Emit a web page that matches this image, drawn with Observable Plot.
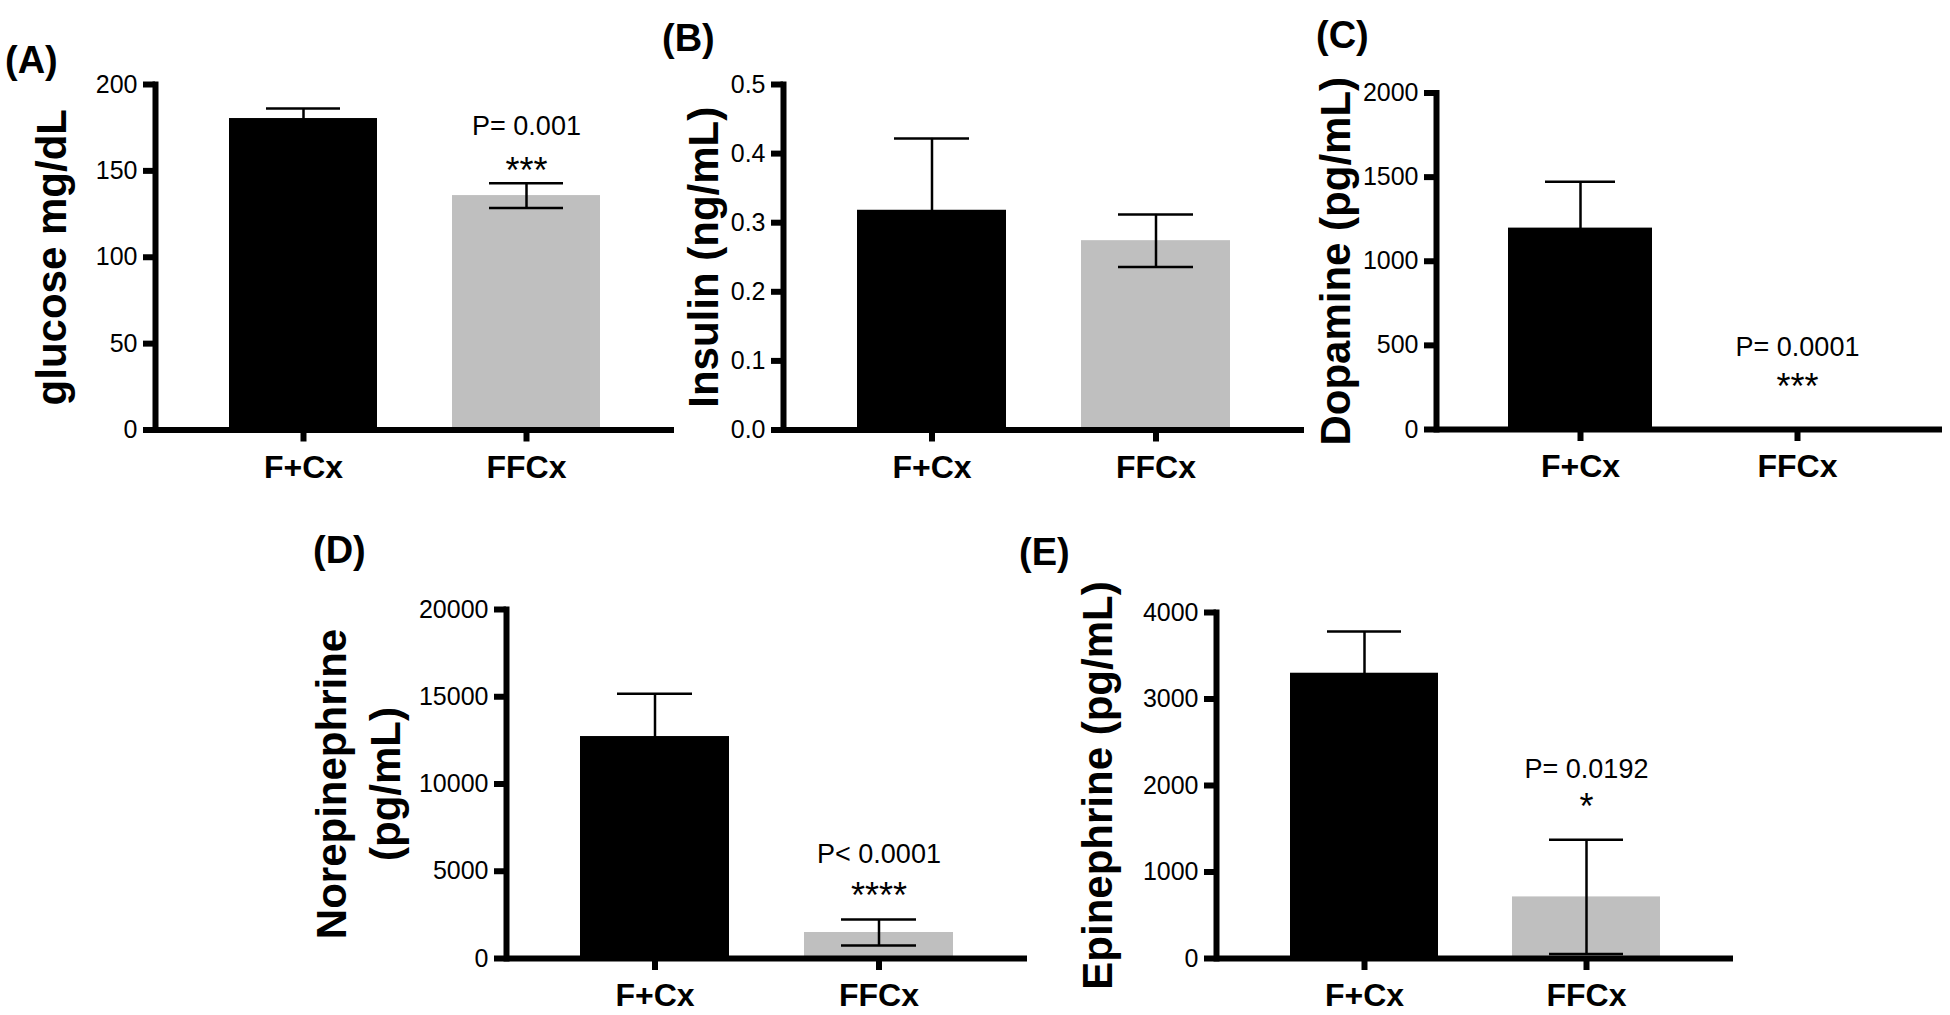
<!DOCTYPE html>
<html><head><meta charset="utf-8">
<script src="https://cdn.jsdelivr.net/npm/d3@7"></script>
<script src="https://cdn.jsdelivr.net/npm/@observablehq/plot@0.6"></script>
<style>
html,body{margin:0;padding:0;background:#fff;}
#fig{position:relative;width:1950px;height:1015px;overflow:hidden;background:#fff;font-family:"Liberation Sans",Arial,Helvetica,sans-serif;}
#fig svg{position:absolute;left:0;top:0;}
#fig svg g[aria-label="y-axis tick"], #fig svg g[aria-label="y-axis tick"] *,
#fig svg g[aria-label="x-axis tick"], #fig svg g[aria-label="x-axis tick"] *,
#fig svg g[aria-label="axis line"], #fig svg g[aria-label="axis line"] * {stroke-width:6px !important;}
.tag{position:absolute;font-weight:bold;font-size:38px;line-height:1;color:#000;white-space:nowrap;}
</style></head><body><div id="fig"></div>
<script>
// ---- data ----
const groups = ["F+Cx", "FFCx"];
const glucose = [180.3, 135.7];
const glucoseSEM = [5.8, 7.2];
const insulin = [0.318, 0.274];
const insulinSEM = [0.104, 0.038];
const dopamine = [1197, 0];
const dopamineSEM = [276, 0];
const norepinephrine = [12720, 1490];
const norepinephrineSEM = [2450, 745];
const epinephrine = [3298, 712];
const epinephrineSEM = [482, 660];

const ticksGlucose = [0, 50, 100, 150, 200];
const ticksInsulin = [0, 0.1, 0.2, 0.3, 0.4, 0.5];
const ticksDopamine = [0, 500, 1000, 1500, 2000];
const ticksNorepinephrine = [0, 5000, 10000, 15000, 20000];
const ticksEpinephrine = [0, 1000, 2000, 3000, 4000];

const panelTags = ["(A)", "(B)", "(C)", "(D)", "(E)"];
const yLabels = ["glucose mg/dL", "Insulin (ng/mL)", "Dopamine (pg/mL)", "Norepinephrine\n(pg/mL)", "Epinephrine (pg/mL)"];
const pTexts = ["P= 0.001", "", "P= 0.0001", "P< 0.0001", "P= 0.0192"];
const starTexts = ["***", "", "***", "****", "*"];

// ---- layout (pixel frame of each panel, label offsets, annotation heights in data units) ----
const layout = [
  {left:155, right:674, top:84, zero:429.5, labelDx:-107, tag:[5,41], pY:170.5, sY:142.7, fmt:"d"},
  {left:783, right:1304, top:84, zero:429.5, labelDx:-82.5, tag:[662,19], pY:null, sY:null, fmt:".1f"},
  {left:1436, right:1942, top:92.5, zero:429, labelDx:-103.5, tag:[1316,16], pY:438, sY:184, fmt:"d"},
  {left:506, right:1027, top:609, zero:958, labelDx:-150.8, tag:[313,531], pY:5501, sY:2866, fmt:"d"},
  {left:1216, right:1733, top:612, zero:958, labelDx:-122, tag:[1019,533], pY:2092, sY:1618, fmt:"d"}
];

const means = [glucose, insulin, dopamine, norepinephrine, epinephrine];
const sems = [glucoseSEM, insulinSEM, dopamineSEM, norepinephrineSEM, epinephrineSEM];
const ticks = [ticksGlucose, ticksInsulin, ticksDopamine, ticksNorepinephrine, ticksEpinephrine];

const W = 1950, H = 1015;
const fig = document.getElementById("fig");
const FONT = '"Liberation Sans", Arial, Helvetica, sans-serif';

layout.forEach((L, i) => {
  const rows = groups.map((g, j) => ({group: g, mean: means[i][j], sem: sems[i][j]}));
  const errRows = rows.filter(d => d.sem > 0);
  const caps = errRows.flatMap(d => [{group: d.group, v: d.mean + d.sem}, {group: d.group, v: d.mean - d.sem}]);
  const ann = [];
  if (pTexts[i]) ann.push({group: groups[1], y: L.pY, text: pTexts[i]});
  const st = [];
  if (starTexts[i]) st.push({group: groups[1], y: L.sY, text: starTexts[i]});
  const t = ticks[i];
  const chart = Plot.plot({
    width: W, height: H,
    marginLeft: L.left, marginRight: W - L.right, marginTop: L.top, marginBottom: H - L.zero,
    style: {background: "transparent", overflow: "visible", fontFamily: FONT, color: "#000"},
    x: {domain: groups, paddingInner: 0.335, paddingOuter: 0.33, axis: null},
    y: {domain: [0, t[t.length - 1]], axis: null},
    color: {domain: groups, range: ["#000000", "#bfbfbf"]},
    marks: [
      Plot.barY(rows, {x: "group", y: "mean", fill: "group"}),
      Plot.ruleX(errRows, {x: "group", y1: d => d.mean - d.sem, y2: d => d.mean + d.sem, stroke: "#000", strokeWidth: 2.5}),
      Plot.tickY(caps, {x: "group", y: "v", stroke: "#000", strokeWidth: 2.5, insetLeft: 37, insetRight: 37}),
      Plot.frame({anchor: "left", stroke: "#000", strokeWidth: 6, ariaLabel: "axis line"}),
      Plot.ruleY([0], {stroke: "#000", strokeWidth: 6, ariaLabel: "axis line"}),
      Plot.axisY({ticks: t, tickFormat: d3.format(L.fmt), tickSize: 12, tickPadding: 6, strokeWidth: 6, fontSize: 25, label: null}),
      Plot.axisX({tickSize: 12, tickPadding: 13, strokeWidth: 6, fontSize: 32, fontWeight: "bold", label: null}),
      Plot.text([yLabels[i]], {frameAnchor: "left", text: d => d, rotate: -90, dx: L.labelDx, fontSize: 42, fontWeight: "bold", lineHeight: 1.3, textAnchor: "middle"}),
      Plot.text(ann, {x: "group", y: "y", text: "text", fontSize: 27, lineAnchor: "bottom"}),
      Plot.text(st, {x: "group", y: "y", text: "text", fontSize: 36, lineAnchor: "bottom"})
    ]
  });
  fig.appendChild(chart);
  const tag = document.createElement("div");
  tag.className = "tag";
  tag.textContent = panelTags[i];
  tag.style.left = L.tag[0] + "px";
  tag.style.top = L.tag[1] + "px";
  fig.appendChild(tag);
});
</script></body></html>
